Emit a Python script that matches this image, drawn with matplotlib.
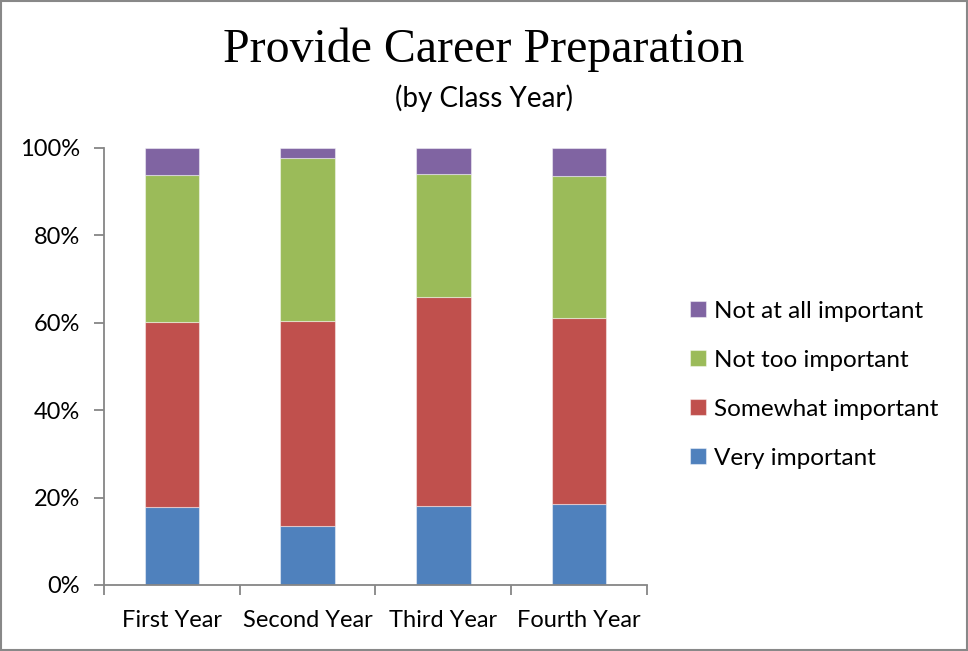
import matplotlib.pyplot as plt
import numpy as np
from matplotlib.patches import Rectangle
from matplotlib.ticker import FixedLocator

years = ['First Year', 'Second Year', 'Third Year', 'Fourth Year']
very = [17.8, 13.5, 18.0, 18.5]
somewhat = [42.3, 46.9, 47.9, 42.5]
not_too = [33.7, 37.4, 28.1, 32.6]
not_at_all = [6.2, 2.2, 6.0, 6.4]

series = [('Very important', very, '#4F81BD'),
          ('Somewhat important', somewhat, '#C0504D'),
          ('Not too important', not_too, '#9BBB59'),
          ('Not at all important', not_at_all, '#8064A2')]

plt.rcParams['font.family'] = ['Lato', 'DejaVu Sans']

fig = plt.figure(figsize=(9.68, 6.51), dpi=100)
ax = fig.add_axes([0.1074, 0.1014, 0.561, 0.6713])

x = np.arange(len(years))
bottom = np.zeros(len(years))
handles = []
for name, vals, col in series:
    b = ax.bar(x, vals, 0.4, bottom=bottom, color=col, label=name,
               edgecolor=(1, 1, 1, 0.45), linewidth=0.8, zorder=2)
    handles.append(b)
    bottom += np.array(vals)

ax.set_xlim(-0.5, len(years) - 0.5)
ax.set_ylim(0, 100)
ax.set_yticks(np.arange(0, 101, 20))
ax.set_yticklabels(['%d%%' % v for v in range(0, 101, 20)])

# ticks between categories, labels centred under the bars
ax.xaxis.set_major_locator(FixedLocator(np.arange(-0.5, len(years), 1)))
ax.xaxis.set_minor_locator(FixedLocator(x))
ax.set_xticklabels([], minor=False)
ax.set_xticklabels(years, minor=True)
ax.tick_params(axis='x', which='minor', length=0, pad=18, labelsize=17)
ax.tick_params(axis='x', which='major', length=7, width=1.3, color='#868686')
ax.tick_params(axis='y', length=7, width=1.3, color='#868686', labelsize=17, pad=10)

for s in ['top', 'right']:
    ax.spines[s].set_visible(False)
for s in ['left', 'bottom']:
    ax.spines[s].set_color('#868686')
    ax.spines[s].set_linewidth(1.3)

fig.text(0.5, 0.923, 'Provide Career Preparation', ha='center', va='center',
         fontsize=34.5, family='Liberation Serif')
fig.text(0.5, 0.849, '(by Class Year)', ha='center', va='center', fontsize=20)

leg = fig.legend(handles[::-1], [s[0] for s in series][::-1], loc='center left',
                 bbox_to_anchor=(0.713, 0.409), frameon=False, fontsize=17.5,
                 handlelength=0.65, handleheight=0.65, handletextpad=0.35,
                 labelspacing=1.15, borderpad=0, borderaxespad=0)

fig.patches.append(Rectangle((0.001, 0.001), 0.998, 0.998, transform=fig.transFigure,
                             fill=False, edgecolor='#888888', linewidth=1.5))

fig.savefig('out.png', dpi=100)
